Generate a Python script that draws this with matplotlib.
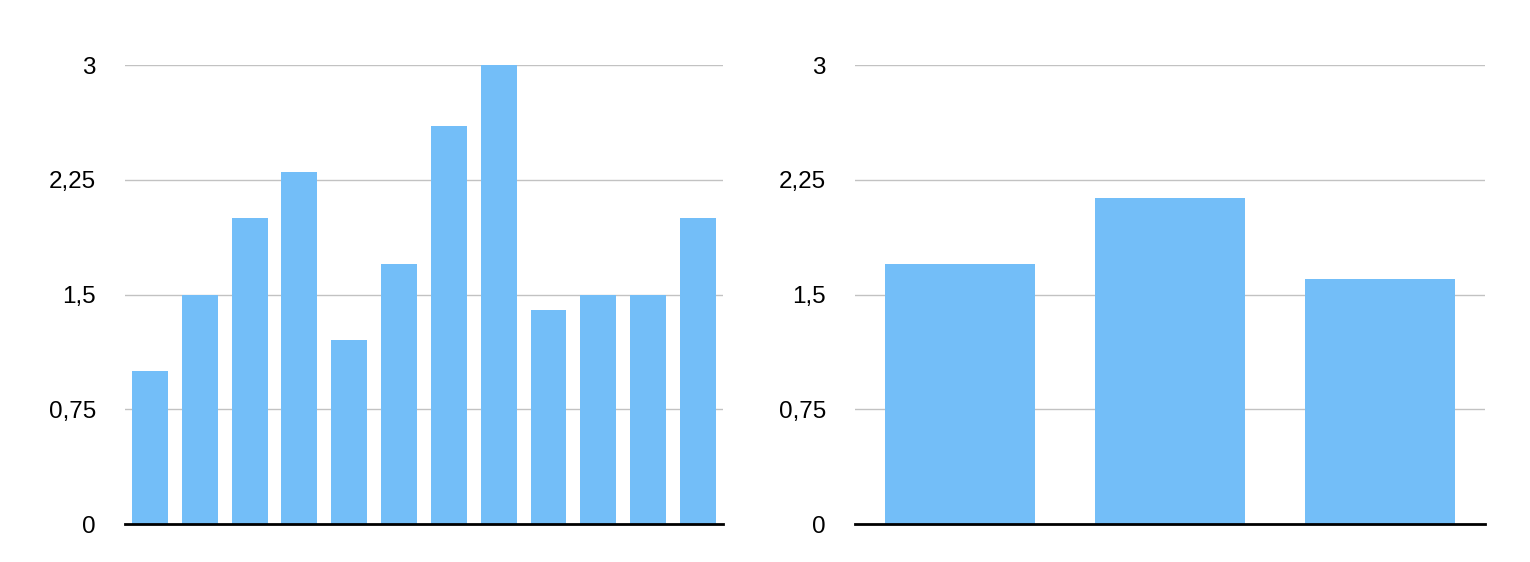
import numpy as np
import matplotlib.pyplot as plt

plt.rcParams['font.family'] = ['Liberation Sans', 'DejaVu Sans']

# data
left_values = [1.0, 1.5, 2.0, 2.3, 1.2, 1.7, 2.6, 3.0, 1.4, 1.5, 1.5, 2.0]
right_values = [1.7, 2.13, 1.6]
yticks = [0, 0.75, 1.5, 2.25, 3]
ytick_labels = ['0', '0,75', '1,5', '2,25', '3']

bar_color = '#73bef8'
grid_color = '#c2c2c2'

fig = plt.figure(figsize=(15.3, 5.62), dpi=100)
ax1 = fig.add_axes([0.0817, 0.0676, 0.3908, 0.8167])
ax2 = fig.add_axes([0.5588, 0.0676, 0.4118, 0.8167])


def style(ax, values, width):
    x = np.arange(len(values))
    ax.bar(x, values, width=width, color=bar_color, zorder=2)
    ax.set_xlim(-0.5, len(values) - 0.5)
    ax.set_ylim(0, 3)
    ax.set_yticks(yticks)
    ax.set_yticklabels(ytick_labels, fontsize=17.5)
    ax.set_xticks([])
    for y in yticks[1:]:
        ax.axhline(y, color=grid_color, linewidth=1, zorder=1)
    ax.axhline(0, color='black', linewidth=2, zorder=3, clip_on=False)
    for s in ax.spines.values():
        s.set_visible(False)
    ax.tick_params(axis='y', length=0, pad=21)


style(ax1, left_values, 0.72)
style(ax2, right_values, 0.714)

fig.savefig('out.png', dpi=100)
